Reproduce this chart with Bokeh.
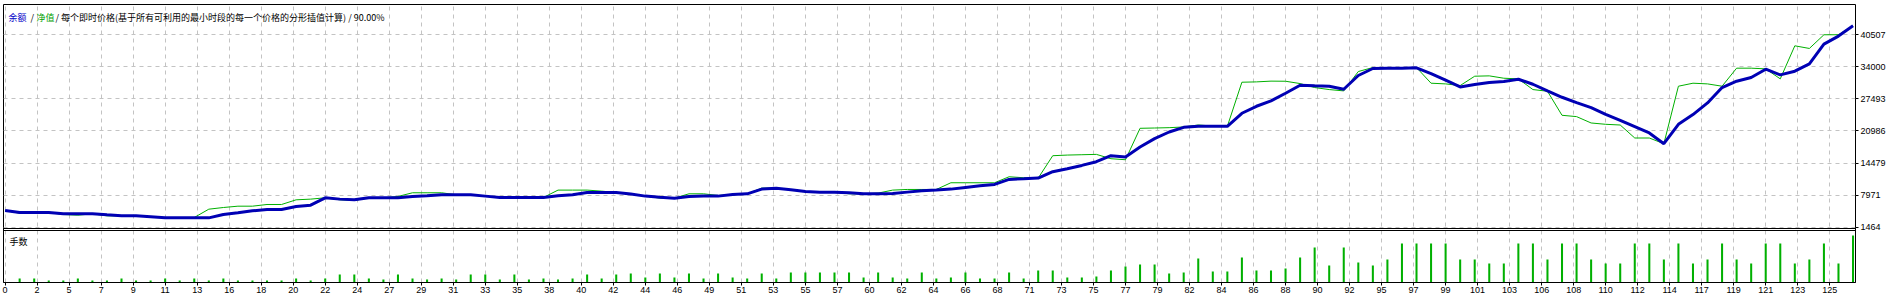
from bokeh.plotting import figure
from bokeh.models import Range1d, FixedTicker, Label, PrintfTickFormatter, Span, LinearAxis
from bokeh.embed import file_html
from bokeh.resources import INLINE

# ---------------- data ----------------
trade_no = list(range(128))

balance = [
    4850, 4450, 4450, 4450, 4180, 4180, 4180, 3970, 3770, 3770,
    3570, 3360, 3360, 3360, 3360, 4040, 4380, 4790, 5060, 5060,
    5670, 5940, 7430, 7160, 7020, 7430, 7430, 7430, 7700, 7840,
    8040, 8040, 8040, 7770, 7500, 7500, 7500, 7500, 7840, 8040,
    8510, 8510, 8510, 8200, 7770, 7560, 7360, 7700, 7770, 7770,
    8110, 8240, 9190, 9390, 9060, 8720, 8580, 8580, 8450, 8240,
    8240, 8310, 8580, 8850, 8990, 9190, 9530, 9870, 10140, 11160,
    11290, 11430, 12720, 13330, 14000, 14750, 15970, 15700, 17730, 19430,
    20780, 21730, 21930, 21930, 21930, 24580, 26000, 27090, 28640, 30270,
    30140, 30070, 29460, 32240, 33660, 33730, 33730, 33800, 32640, 31290,
    29930, 30410, 30810, 31020, 31490, 30470, 29120, 27830, 26750, 25730,
    24370, 23150, 21870, 20580, 18410, 22340, 24310, 26680, 29800, 31080,
    31830, 33520, 32370, 33120, 34610, 38610, 40240, 42340,
]

equity = [
    4850, 4310, 4450, 4450, 4040, 3900, 4180, 3770, 3770, 3770,
    3570, 3360, 3360, 3430, 5120, 5460, 5730, 5730, 6070, 6070,
    7020, 7160, 7430, 7020, 6890, 7430, 7430, 7700, 8450, 8450,
    8450, 8040, 8040, 7770, 7500, 7360, 7500, 7500, 8990, 8990,
    8990, 8780, 8510, 8200, 7770, 7360, 7360, 8240, 8240, 7900,
    8110, 8240, 9390, 9390, 9060, 8720, 8580, 8580, 8240, 8240,
    8380, 8990, 9120, 9120, 9120, 10480, 10480, 10480, 10480, 11700,
    11500, 11430, 15970, 16100, 16170, 16240, 15360, 15150, 21530, 21590,
    21660, 21800, 22200, 22000, 21930, 30880, 30950, 31100, 31080, 30610,
    29800, 29390, 29120, 33050, 33860, 33860, 33860, 33860, 30680, 30540,
    30200, 32100, 32170, 31690, 31560, 29390, 29050, 24170, 23900, 22610,
    22340, 22200, 19560, 19560, 18410, 30070, 30680, 30540, 30070, 33730,
    33730, 33590, 31560, 38270, 37730, 40510, 40510, 42340,
]

lot_trades = list(range(1, 128))
lots = [
    0.12, 0.12, 0.06, 0.06, 0.12, 0.06, 0.06, 0.12, 0.06, 0.06,
    0.12, 0.06, 0.12, 0.06, 0.12, 0.06, 0.06, 0.06, 0.06, 0.12,
    0.06, 0.12, 0.24, 0.24, 0.12, 0.09, 0.24, 0.12, 0.09, 0.12,
    0.09, 0.24, 0.24, 0.09, 0.24, 0.09, 0.12, 0.09, 0.12, 0.24,
    0.12, 0.24, 0.27,
    0.15, 0.27, 0.15, 0.27, 0.12, 0.27, 0.15, 0.12, 0.27, 0.12,
    0.30, 0.30, 0.30, 0.30, 0.30, 0.15, 0.30, 0.15, 0.12, 0.30,
    0.12, 0.15, 0.30, 0.12, 0.12, 0.30, 0.12, 0.36, 0.36, 0.15,
    0.15, 0.18, 0.36, 0.48, 0.54, 0.54, 0.27, 0.30, 0.72, 0.33,
    0.33, 0.75, 0.36,
    0.36, 0.42, 0.75, 1.05, 0.51, 1.05, 0.60, 0.51, 0.69, 1.17,
    1.17, 1.17, 1.17, 0.69, 0.69, 0.57, 0.57, 1.17, 1.17, 0.69,
    1.17, 1.17, 0.69, 0.57, 0.57, 1.17, 1.17, 0.69, 1.17, 0.57,
    0.69, 1.17, 0.69, 0.57, 1.17, 1.17, 0.57, 0.69, 1.17, 0.57,
    1.41,
]

y_ticks = [1464, 7971, 14479, 20986, 27493, 34000, 40507]

x_labels = ["0", "2", "5", "7", "9", "11", "13", "16", "18", "20", "22", "24",
            "27", "29", "31", "33", "35", "38", "40", "42", "44", "46", "49",
            "51", "53", "55", "57", "60", "62", "64", "66", "68", "71", "73",
            "75", "77", "79", "82", "84", "86", "88", "90", "92", "95", "97",
            "99", "101", "103", "106", "108", "110", "112", "114", "117",
            "119", "121", "123", "125"]

title_parts = ["余额", "/", "净值", "/ 每个即时价格(基于所有可利用的最小时段的每一个价格的分形插值计算) / 90.00%"]
title_colors = ["#0000c8", "#000000", "#00a000", "#000000"]
title_offsets = [5, 27, 33, 52]
lots_title = "手数"

# ---------------- layout helpers ----------------
GRID_STEP = 2.2
x_ticks = [round(k * GRID_STEP, 4) for k in range(len(x_labels))]
x_start, x_end = -0.11, 127.17

FRAME_H = 278          # whole frame: price panel (224 px) + gap (2 px) + lots panel (52 px)
PRICE_H, GAP_H, LOTS_H = 224, 2, 52
price_bottom, price_top = 1200, 46650
per_px = (price_top - price_bottom) / PRICE_H
y_start = price_bottom - (GAP_H + LOTS_H) * per_px
lots_top = 1.56
lots_range_end = lots_top * FRAME_H / LOTS_H

BLUE = "#0000b4"
GREEN = "#00b000"
GRID_COLOR = "#c3c3c3"
NUM_FONT = "Liberation Sans"
CJK_FONT = "Noto Sans CJK SC"

p = figure(frame_width=1852, frame_height=FRAME_H,
           x_range=Range1d(x_start, x_end), y_range=Range1d(y_start, price_top),
           output_backend="svg", toolbar_location=None,
           x_axis_location="below", y_axis_location="right",
           min_border_left=3, min_border_right=45, min_border_top=4,
           min_border_bottom=17,
           background_fill_color="white", border_fill_color="white",
           outline_line_color="black", outline_line_width=1)

p.extra_y_ranges = {"lots": Range1d(0, lots_range_end)}

p.xgrid.ticker = FixedTicker(ticks=x_ticks)
p.ygrid.ticker = FixedTicker(ticks=y_ticks)
for g in (p.xgrid, p.ygrid):
    g.grid_line_color = GRID_COLOR
    g.grid_line_dash = "4 4"
    g.grid_line_width = 1

ya = p.yaxis[0]
ya.ticker = FixedTicker(ticks=y_ticks)
ya.formatter = PrintfTickFormatter(format="%d")
ya.axis_line_color = None
ya.major_tick_out = 3
ya.major_tick_in = 0
ya.major_tick_line_color = "black"
ya.minor_tick_line_color = None
ya.major_label_standoff = 2
ya.major_label_text_font = NUM_FONT
ya.major_label_text_font_size = "9px"
ya.major_label_text_color = "black"

xa = p.xaxis[0]
xa.ticker = FixedTicker(ticks=x_ticks)
xa.major_label_overrides = {t: s for t, s in zip(x_ticks, x_labels)}
xa.axis_line_color = "black"
xa.major_tick_out = 3
xa.major_tick_in = 0
xa.major_tick_line_color = "black"
xa.minor_tick_line_color = None
xa.major_label_standoff = 1
xa.major_label_text_font = NUM_FONT
xa.major_label_text_font_size = "9px"
xa.major_label_text_color = "black"
xa.major_label_text_align = "right"

# separator between the price panel and the lots panel
p.add_layout(Span(location=price_bottom, dimension="width", line_color="black", line_width=1))
p.add_layout(Span(location=price_bottom - GAP_H * per_px, dimension="width",
                  line_color="black", line_width=1))

# lots bars
p.vbar(x=lot_trades, top=lots, width=0.14, fill_color=GREEN, line_color=None,
       y_range_name="lots")

# balance / equity
p.line(trade_no, equity, line_color=GREEN, line_width=1)
p.line(trade_no, balance, line_color=BLUE, line_width=3)

for txt, col, off in zip(title_parts, title_colors, title_offsets):
    p.add_layout(Label(x=x_start, y=price_top, x_offset=off, y_offset=-6,
                       text=txt, text_color=col, text_font=CJK_FONT,
                       text_font_size="9px", text_baseline="top",
                       text_align="left"))

p.add_layout(Label(x=x_start, y=lots_top, y_range_name="lots", x_offset=6, y_offset=-4,
                   text=lots_title, text_color="black", text_font=CJK_FONT,
                   text_font_size="9px", text_baseline="top", text_align="left"))

open("out.html", "w").write(file_html(p, INLINE))
